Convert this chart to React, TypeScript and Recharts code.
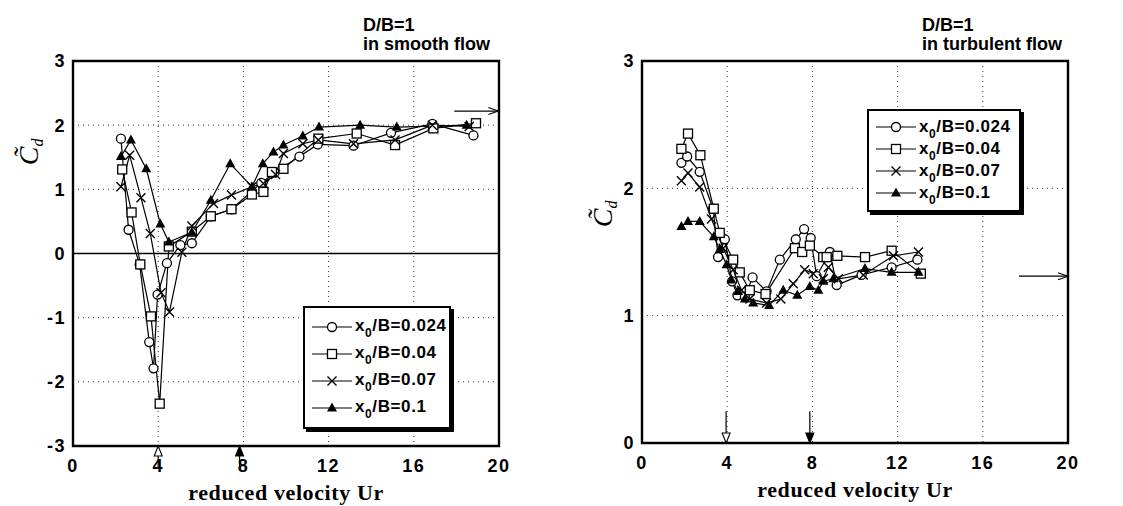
import React from 'react';
import { LineChart, Line, XAxis, YAxis, CartesianGrid, ReferenceLine, ReferenceArea, Legend } from 'recharts';

// legend values and marker for each series
const seriesNames = ['0.024', '0.04', '0.07', '0.1'];
const markerTypes = ['circle', 'square', 'cross', 'triangle'];

const xTicks = [0, 4, 8, 12, 16, 20];
const smoothYTicks = [-3, -2, -1, 0, 1, 2, 3];
const turbulentYTicks = [0, 1, 2, 3];

// smooth flow (left panel)
const smoothUr024 = [2.25, 2.61, 3.13, 3.58, 3.78, 3.97, 4.41, 5.04, 5.58, 6.47, 7.44, 8.84, 9.46, 10.63, 11.49, 13.17, 14.93, 16.87, 18.8];
const smoothCd024 = [1.79, 0.37, -0.17, -1.38, -1.79, -0.64, -0.15, 0.13, 0.16, 0.58, 0.69, 1.1, 1.26, 1.51, 1.7, 1.68, 1.88, 2.02, 1.84];
const smoothUr04 = [2.31, 2.75, 3.16, 3.66, 4.07, 4.5, 5.58, 6.47, 7.44, 8.4, 8.94, 9.34, 9.88, 11.52, 13.32, 15.12, 16.92, 18.92];
const smoothCd04 = [1.31, 0.64, -0.17, -0.98, -2.34, 0.11, 0.34, 0.58, 0.69, 0.92, 0.96, 1.27, 1.32, 1.79, 1.87, 1.69, 1.95, 2.03];
const smoothUr07 = [2.25, 2.66, 3.19, 3.63, 4.13, 4.53, 5.11, 5.58, 6.6, 7.44, 8.4, 8.94, 9.51, 9.88, 10.79, 11.52, 13.17, 15.12, 16.87, 18.6];
const smoothCd07 = [1.04, 1.53, 0.87, 0.31, -0.61, -0.91, 0.02, 0.43, 0.78, 0.91, 1.04, 1.09, 1.23, 1.56, 1.71, 1.77, 1.71, 1.77, 2.0, 1.98];
const smoothUr1 = [2.25, 2.72, 3.44, 4.1, 4.5, 5.58, 6.47, 7.38, 8.4, 8.91, 9.41, 9.88, 10.79, 11.55, 13.48, 15.2, 18.48];
const smoothCd1 = [1.51, 1.77, 1.32, 0.46, 0.18, 0.33, 0.83, 1.4, 1.04, 1.4, 1.58, 1.69, 1.83, 1.97, 2.0, 1.97, 2.0];

// turbulent flow (right panel)
const turbUr024 = [1.85, 2.12, 2.71, 3.34, 3.57, 3.89, 4.23, 4.48, 4.83, 5.19, 5.85, 6.47, 7.22, 7.61, 7.92, 8.2, 8.82, 9.14, 10.31, 11.72, 12.93];
const turbCd024 = [2.2, 2.25, 2.13, 1.84, 1.46, 1.6, 1.27, 1.16, 1.15, 1.3, 1.19, 1.44, 1.6, 1.68, 1.61, 1.31, 1.5, 1.24, 1.32, 1.38, 1.44];
const turbUr04 = [1.85, 2.16, 2.74, 3.37, 3.65, 4.28, 4.59, 5.06, 5.8, 7.18, 7.52, 7.88, 8.51, 8.67, 9.17, 10.47, 11.72, 13.09];
const turbCd04 = [2.31, 2.43, 2.26, 1.84, 1.65, 1.44, 1.34, 1.2, 1.17, 1.53, 1.5, 1.55, 1.46, 1.46, 1.47, 1.46, 1.51, 1.33];
const turbUr07 = [1.85, 2.16, 2.71, 3.26, 3.81, 4.28, 4.67, 5.06, 5.85, 6.52, 7.1, 7.64, 8.04, 8.51, 8.75, 9.22, 10.39, 11.8, 12.98];
const turbCd07 = [2.06, 2.12, 2.01, 1.76, 1.53, 1.36, 1.2, 1.13, 1.1, 1.13, 1.25, 1.36, 1.33, 1.29, 1.38, 1.29, 1.32, 1.47, 1.5];
const turbUr1 = [1.85, 2.16, 2.71, 3.37, 3.65, 3.97, 4.2, 4.51, 4.83, 5.22, 5.97, 6.63, 7.29, 7.88, 8.28, 8.51, 8.98, 10.47, 11.72, 12.98];
const turbCd1 = [1.7, 1.74, 1.74, 1.62, 1.52, 1.4, 1.28, 1.19, 1.13, 1.1, 1.08, 1.2, 1.16, 1.23, 1.2, 1.27, 1.29, 1.37, 1.34, 1.34];

// arrow annotations: [x1, y1, x2, y2, style]
const smoothArrows: [number, number, number, number, string][] = [
  [4.0, -3.36, 4.0, -3.0, 'open'],
  [7.82, -3.36, 7.82, -3.0, 'filled'],
  [17.9, 2.22, 19.97, 2.22, 'lines'],
];
const turbulentArrows: [number, number, number, number, string][] = [
  [3.95, 0.25, 3.95, 0.0, 'open'],
  [7.88, 0.25, 7.88, 0.0, 'filled'],
  [17.7, 1.31, 20.0, 1.31, 'lines'],
];

const toPoints = (xs: number[], ys: number[]) => xs.map((x, i) => ({ x, y: ys[i] }));

const smoothSeries = [
  toPoints(smoothUr024, smoothCd024),
  toPoints(smoothUr04, smoothCd04),
  toPoints(smoothUr07, smoothCd07),
  toPoints(smoothUr1, smoothCd1),
];
const turbulentSeries = [
  toPoints(turbUr024, turbCd024),
  toPoints(turbUr04, turbCd04),
  toPoints(turbUr07, turbCd07),
  toPoints(turbUr1, turbCd1),
];

const sansBold = '"Liberation Sans", Arial, sans-serif';

const Marker = ({ cx, cy, type }: any) => {
  if (cx == null || cy == null) return null;
  if (type === 'circle') {
    return <circle cx={cx} cy={cy} r={4.5} fill="#fff" stroke="#000" strokeWidth={1.3} />;
  }
  if (type === 'square') {
    return <rect x={cx - 4.5} y={cy - 4.5} width={9} height={9} fill="#fff" stroke="#000" strokeWidth={1.3} />;
  }
  if (type === 'cross') {
    return (
      <path
        d={`M${cx - 4.5},${cy - 4.5}L${cx + 4.5},${cy + 4.5}M${cx + 4.5},${cy - 4.5}L${cx - 4.5},${cy + 4.5}`}
        stroke="#000"
        strokeWidth={1.4}
        fill="none"
      />
    );
  }
  return <path d={`M${cx},${cy - 5.5}L${cx + 5},${cy + 3.5}L${cx - 5},${cy + 3.5}Z`} fill="#000" />;
};

const renderDot = (type: string) => (props: any) => (
  <Marker key={`${type}-${props.index}`} cx={props.cx} cy={props.cy} type={type} />
);

const arrowShape = (style: string) => (props: any) => {
  const { x1, y1, x2, y2 } = props;
  const ang = Math.atan2(y2 - y1, x2 - x1);
  const len = 10;
  const w = style === 'lines' ? 3.5 : 4;
  const bx = x2 - len * Math.cos(ang);
  const by = y2 - len * Math.sin(ang);
  const px = -Math.sin(ang) * w;
  const py = Math.cos(ang) * w;
  const head = `M${bx + px},${by + py}L${x2},${y2}L${bx - px},${by - py}${style === 'lines' ? '' : 'Z'}`;
  return (
    <g>
      <line x1={x1} y1={y1} x2={style === 'lines' ? x2 : bx} y2={style === 'lines' ? y2 : by} stroke="#000" strokeWidth={1.2} />
      <path d={head} fill={style === 'filled' ? '#000' : style === 'open' ? '#fff' : 'none'} stroke="#000" strokeWidth={1.1} />
    </g>
  );
};

const LegendBox = ({ rowHeight }: { rowHeight: number }) => (
  <div
    style={{
      border: '2px solid #000',
      boxShadow: '3px 3px 0 #000',
      background: '#fff',
      padding: '5px 6px 6px 7px',
    }}
  >
    {seriesNames.map((name, i) => (
      <div key={name} style={{ display: 'flex', alignItems: 'center', height: rowHeight }}>
        <svg width={40} height={14} style={{ flex: 'none' }}>
          <line x1={0} y1={7} x2={40} y2={7} stroke="#000" strokeWidth={1.2} />
          <Marker cx={20} cy={7} type={markerTypes[i]} />
        </svg>
        <span
          style={{
            marginLeft: 3,
            fontFamily: sansBold,
            fontWeight: 'bold',
            fontSize: 17,
            lineHeight: '17px',
            letterSpacing: 0.6,
            whiteSpace: 'nowrap',
          }}
        >
          x<span style={{ fontSize: 12, position: 'relative', top: 6 }}>0</span>/B={name}
        </span>
      </div>
    ))}
  </div>
);

const cdLabel = (dx: number, frac: number) => (props: any) => {
  const { viewBox } = props;
  const x = viewBox.x + dx;
  const y = viewBox.y + viewBox.height * frac;
  return (
    <text
      x={x}
      y={y}
      transform={`rotate(-90 ${x} ${y})`}
      textAnchor="middle"
      fontFamily='"Liberation Serif", "Times New Roman", serif'
      fontStyle="italic"
      fontSize={28}
      fill="#000"
    >
      {'C\u0303'}
      <tspan fontSize={16} dy={5}>d</tspan>
    </text>
  );
};

const tickStyle = { fontFamily: sansBold, fontWeight: 'bold', fontSize: 18, fill: '#000', letterSpacing: 1.5 };
const axisTitleStyle = {
  fontFamily: '"Liberation Serif", "Times New Roman", serif',
  fontWeight: 'bold',
  fontSize: 22,
  fill: '#000',
  letterSpacing: 0.6,
};

const Title = ({ left, flow }: { left: number; flow: string }) => (
  <div
    style={{
      position: 'absolute',
      left,
      top: 16,
      fontFamily: sansBold,
      fontWeight: 'bold',
      fontSize: 18,
      lineHeight: '19px',
    }}
  >
    <div>D/B=1</div>
    <div>{flow}</div>
  </div>
);

const Panel = (props: {
  series: { x: number; y: number }[][];
  yDomain: [number, number];
  yTicks: number[];
  arrows: [number, number, number, number, string][];
  yAxisWidth: number;
  width: number;
  margin: { top: number; right: number; bottom: number; left: number };
  legendPos: { left: number; top: number; width: number };
  rowHeight: number;
  labelDx: number;
  labelFrac: number;
  zeroLine: boolean;
}) => (
  <LineChart width={props.width} height={506} margin={props.margin}>
    <CartesianGrid stroke="#333" strokeDasharray="1 4" strokeWidth={1} />
    <XAxis
      type="number"
      dataKey="x"
      domain={[0, 20]}
      ticks={xTicks}
      allowDuplicatedCategory={false}
      height={30}
      axisLine={false}
      tickLine={false}
      tickSize={0}
      tickMargin={13}
      tick={tickStyle}
      label={{ value: 'reduced velocity Ur', position: 'bottom', offset: 8, style: axisTitleStyle }}
    />
    <YAxis
      type="number"
      domain={props.yDomain}
      ticks={props.yTicks}
      width={props.yAxisWidth}
      axisLine={false}
      tickLine={false}
      tickSize={0}
      tickMargin={7}
      tick={tickStyle}
      tickFormatter={(v: number) => String(v)}
      label={{ content: cdLabel(props.labelDx, props.labelFrac) }}
    />
    {props.zeroLine && <ReferenceLine y={0} stroke="#000" strokeWidth={1.6} />}
    <ReferenceArea
      x1={0}
      x2={20}
      y1={props.yDomain[0]}
      y2={props.yDomain[1]}
      fill="none"
      fillOpacity={0}
      stroke="#000"
      strokeWidth={2.4}
    />
    {props.arrows.map(([x1, y1, x2, y2, style], i) => (
      <ReferenceLine
        key={`arrow-${i}`}
        segment={[{ x: x1, y: y1 }, { x: x2, y: y2 }]}
        ifOverflow="visible"
        shape={arrowShape(style)}
      />
    ))}
    {props.series.map((data, i) => (
      <Line
        key={seriesNames[i]}
        data={data}
        dataKey="y"
        name={seriesNames[i]}
        stroke="#000"
        strokeWidth={1.2}
        dot={renderDot(markerTypes[i])}
        activeDot={false}
        isAnimationActive={false}
      />
    ))}
    <Legend
      layout="vertical"
      align="center"
      verticalAlign="middle"
      wrapperStyle={{ left: props.legendPos.left, top: props.legendPos.top, width: props.legendPos.width }}
      content={() => <LegendBox rowHeight={props.rowHeight} />}
    />
  </LineChart>
);

const App = () => (
  <div style={{ position: 'absolute', left: 0, top: 0, width: 1123, height: 506, background: '#fff', overflow: 'hidden' }}>
    <div style={{ position: 'absolute', left: 0, top: 0 }}>
      <Panel
        series={smoothSeries}
        yDomain={[-3, 3]}
        yTicks={smoothYTicks}
        arrows={smoothArrows}
        yAxisWidth={73}
        width={560}
        margin={{ top: 61, right: 61, bottom: 30, left: 0 }}
        legendPos={{ left: 303, top: 306, width: 148 }}
        rowHeight={27}
        labelDx={38}
        labelFrac={0.236}
        zeroLine
      />
    </div>
    <div style={{ position: 'absolute', left: 560, top: 0 }}>
      <Panel
        series={turbulentSeries}
        yDomain={[0, 3]}
        yTicks={turbulentYTicks}
        arrows={turbulentArrows}
        yAxisWidth={82}
        width={563}
        margin={{ top: 61, right: 55, bottom: 33, left: 0 }}
        legendPos={{ left: 307, top: 109, width: 154 }}
        rowHeight={22}
        labelDx={52}
        labelFrac={0.4}
        zeroLine={false}
      />
    </div>
    <Title left={363} flow="in smooth flow" />
    <Title left={922} flow="in turbulent flow" />
  </div>
);

export default App;
